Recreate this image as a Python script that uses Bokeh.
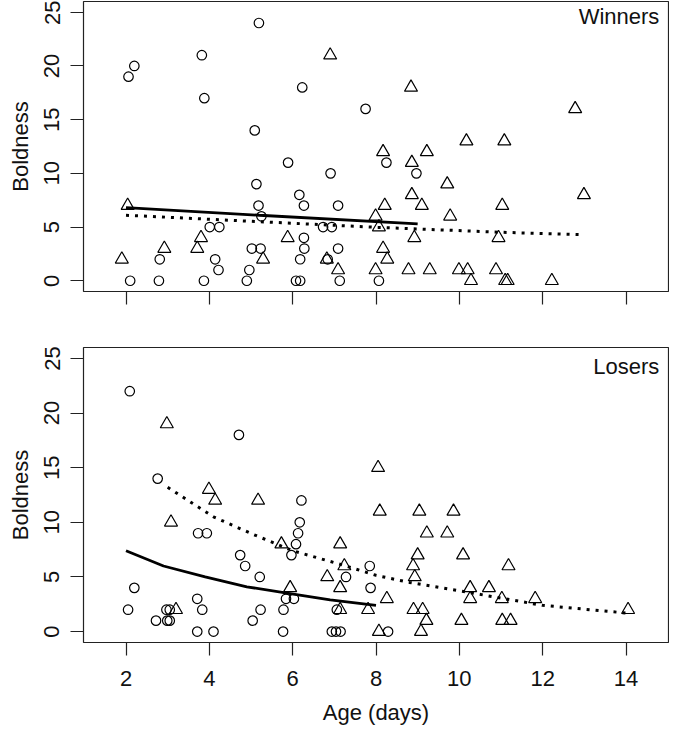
from bokeh.plotting import figure
from bokeh.layouts import column
from bokeh.models import Range1d, FixedTicker, Label
from bokeh.embed import file_html
from bokeh.resources import INLINE

# ---------------- data ----------------
x_ticks = [2, 4, 6, 8, 10, 12, 14]
y_ticks = [0, 5, 10, 15, 20, 25]

# Winners panel
win_circ_age = [5.19, 3.82, 2.20, 2.06, 3.88, 6.23, 7.75, 5.09, 5.89, 6.91, 8.25, 8.97, 5.13, 6.16,
                5.18, 6.27, 7.09, 5.25, 4.01, 4.24, 6.73, 6.94, 6.27, 5.02, 5.23, 6.28, 7.09, 2.81,
                4.14, 6.18, 6.84, 4.22, 4.96, 2.10, 2.79, 3.87, 4.90, 6.08, 6.18, 7.13, 8.07]
win_circ_bold = [24, 21, 20, 19, 17, 18, 16, 14, 11, 10, 11, 10, 9, 8,
                 7, 7, 7, 6, 5, 5, 5, 5, 4, 3, 3, 3, 3, 2,
                 2, 2, 2, 1, 1, 0, 0, 0, 0, 0, 0, 0, 0]
win_tri_age = [6.90, 2.04, 7.99, 3.80, 2.92, 3.71, 5.88, 1.90, 5.29, 6.82, 7.09, 7.99, 8.07, 8.17,
               8.17, 8.84, 12.78, 10.17, 11.08, 9.22, 8.86, 9.71, 8.86, 12.99, 8.21, 9.10, 11.03,
               9.78, 8.92, 10.94, 8.27, 8.78, 9.29, 9.99, 10.20, 10.88, 10.28, 11.10, 11.16, 12.22]
win_tri_bold = [21, 7, 6, 4, 3, 3, 4, 2, 2, 2, 1, 1, 5, 3,
                12, 18, 16, 13, 13, 12, 11, 9, 8, 8, 7, 7, 7,
                6, 4, 4, 2, 1, 1, 1, 1, 1, 0, 0, 0, 0]
win_fit_circ_age = [2.0, 5.2, 9.0]
win_fit_circ_bold = [6.8, 6.1, 5.3]
win_fit_tri_age = [2.0, 5.2, 8.05, 10.94, 12.9]
win_fit_tri_bold = [6.1, 5.5, 4.97, 4.52, 4.3]

# Losers panel
los_circ_age = [2.09, 4.71, 2.76, 6.21, 6.17, 6.13, 3.73, 3.94, 6.08, 5.97, 4.74, 4.86, 5.21, 7.85,
                7.28, 2.20, 7.87, 3.71, 5.84, 6.03, 2.05, 2.97, 3.05, 3.83, 5.23, 5.78, 7.06, 2.72,
                2.99, 3.05, 5.04, 3.71, 4.10, 5.77, 6.94, 7.04, 7.15, 8.29]
los_circ_bold = [22, 18, 14, 12, 10, 9, 9, 9, 8, 7, 7, 6, 5, 6,
                 5, 4, 4, 3, 3, 3, 2, 2, 2, 2, 2, 2, 2, 1,
                 1, 1, 1, 0, 0, 0, 0, 0, 0, 0]
los_tri_age = [2.98, 3.99, 4.14, 5.17, 3.08, 5.73, 7.14, 7.24, 6.83, 7.14, 5.94, 3.20, 7.14, 7.81,
               8.05, 8.09, 8.07, 9.04, 9.86, 9.22, 9.71, 9.00, 10.09, 8.89, 11.18, 8.93, 10.26,
               10.71, 8.26, 10.26, 11.02, 11.82, 8.90, 9.12, 14.05, 9.21, 10.05, 11.03, 11.23, 9.08]
los_tri_bold = [19, 13, 12, 12, 10, 8, 8, 6, 5, 4, 4, 2, 2, 2,
                15, 11, 0, 11, 11, 9, 9, 7, 7, 6, 6, 5, 4,
                4, 3, 3, 3, 3, 2, 2, 2, 1, 1, 1, 1, 0]
los_fit_circ_age = [2.0, 2.9, 3.9, 4.9, 5.9, 6.9, 8.0]
los_fit_circ_bold = [7.4, 6.0, 5.0, 4.1, 3.5, 2.9, 2.4]
los_fit_tri_age = [3.0, 4.1, 5.05, 6.0, 7.1, 8.0, 8.8, 10.2, 12.0, 14.0]
los_fit_tri_bold = [13.2, 10.5, 8.9, 7.4, 6.2, 5.15, 4.5, 3.6, 2.4, 1.7]

FONT = "Liberation Sans"
FS = "22px"


def make_panel(height, top, bottom, show_xlabels, title,
               circ_x, circ_y, tri_x, tri_y, fc_x, fc_y, ft_x, ft_y, label_y):
    p = figure(width=669, height=height, output_backend="svg", toolbar_location=None,
               x_range=Range1d(0.98, 15.02), y_range=Range1d(-1, 26),
               min_border_left=83, min_border_right=1,
               min_border_top=top, min_border_bottom=bottom)
    p.background_fill_color = "white"
    p.border_fill_color = "white"
    p.outline_line_color = "#222222"
    p.outline_line_width = 1.2
    p.xgrid.grid_line_color = None
    p.ygrid.grid_line_color = None

    for ax in (p.xaxis[0], p.yaxis[0]):
        ax.axis_line_color = None
        ax.major_tick_line_color = "#222222"
        ax.major_tick_line_width = 1.2
        ax.major_tick_in = 0
        ax.major_tick_out = 13
        ax.minor_tick_line_color = None
        ax.major_label_text_font = FONT
        ax.major_label_text_font_size = FS
        ax.major_label_text_color = "#111111"
        ax.axis_label_text_font = FONT
        ax.axis_label_text_font_size = FS
        ax.axis_label_text_font_style = "normal"
        ax.axis_label_text_color = "#111111"

    p.xaxis.ticker = FixedTicker(ticks=x_ticks)
    p.yaxis.ticker = FixedTicker(ticks=y_ticks)
    p.yaxis.major_label_orientation = "vertical"
    p.yaxis.major_label_standoff = 11
    p.yaxis.axis_label = "Boldness"
    p.yaxis.axis_label_standoff = 9
    if show_xlabels:
        p.xaxis.major_label_standoff = 15
        p.xaxis.axis_label = "Age (days)"
        p.xaxis.axis_label_standoff = 11
    else:
        p.xaxis.major_label_overrides = {t: "" for t in x_ticks}

    p.scatter(circ_x, circ_y, marker="circle", size=9.5, fill_color=None,
              line_color="black", line_width=1.2)
    p.scatter(tri_x, tri_y, marker="triangle", size=13, fill_color=None,
              line_color="black", line_width=1.2)
    p.line(fc_x, fc_y, line_color="black", line_width=2.8)
    p.line(ft_x, ft_y, line_color="black", line_width=3, line_dash="3 6")

    p.add_layout(Label(x=14.8, y=label_y, text=title, text_align="right",
                       text_baseline="middle", text_font=FONT, text_font_size=FS,
                       text_color="#111111"))
    return p


top = make_panel(338, 1, 47, False, "Winners",
                 win_circ_age, win_circ_bold, win_tri_age, win_tri_bold,
                 win_fit_circ_age, win_fit_circ_bold, win_fit_tri_age, win_fit_tri_bold, 24.6)
bot = make_panel(395, 9, 91, True, "Losers",
                 los_circ_age, los_circ_bold, los_tri_age, los_tri_bold,
                 los_fit_circ_age, los_fit_circ_bold, los_fit_tri_age, los_fit_tri_bold, 24.27)

layout = column(top, bot, spacing=0)
open("out.html", "w").write(file_html(layout, INLINE))
